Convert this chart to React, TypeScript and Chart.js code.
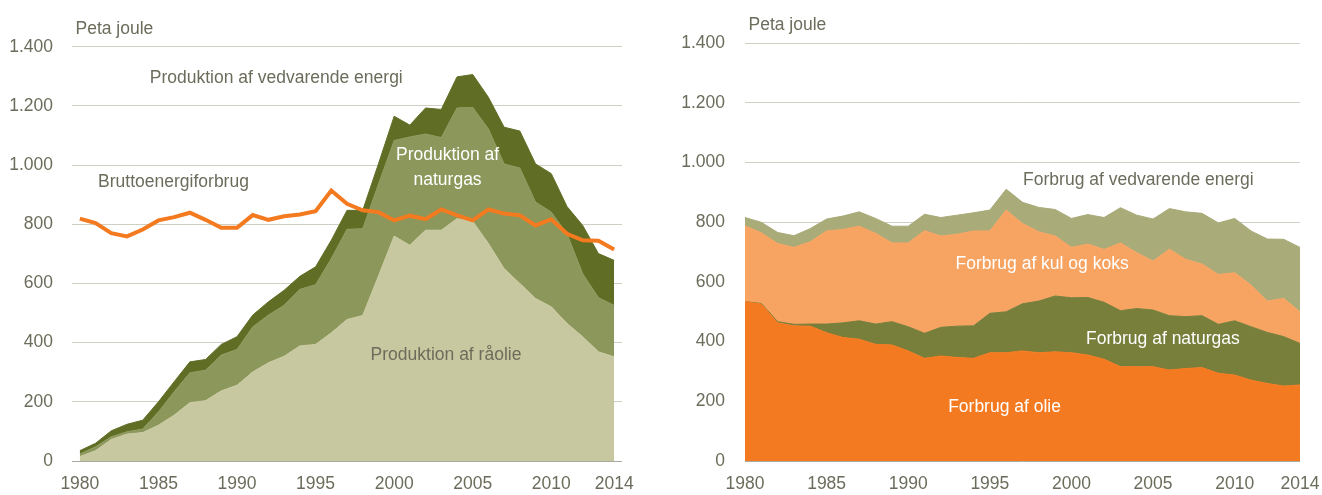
import React, { useEffect, useRef } from "react";
import { Chart, registerables } from "chart.js";

Chart.register(...registerables);

// ---------- DATA ----------
const years = [
  "1980", "1981", "1982", "1983", "1984", "1985", "1986", "1987", "1988", "1989",
  "1990", "1991", "1992", "1993", "1994", "1995", "1996", "1997", "1998", "1999",
  "2000", "2001", "2002", "2003", "2004", "2005", "2006", "2007", "2008", "2009",
  "2010", "2011", "2012", "2013", "2014",
];
const shownYears = ["1980", "1985", "1990", "1995", "2000", "2005", "2010", "2014"];
const yTicks = [0, 200, 400, 600, 800, 1000, 1200, 1400];

// Left chart: production (stacked) + gross energy consumption line
const prodRaaolie = [
  15, 35, 73, 91, 96, 121, 155, 197, 204, 237, 256, 301, 332, 354, 389, 394, 433, 478,
  492, 625, 760, 729, 780, 780, 819, 810, 735, 650, 600, 549, 521, 465, 420, 369, 352,
];
const prodNaturgas = [
  9, 13, 9, 8, 12, 45, 79, 101, 103, 121, 121, 152, 161, 172, 191, 202, 251, 305, 293,
  310, 323, 366, 325, 313, 374, 385, 387, 354, 390, 326, 320, 303, 213, 183, 174,
];
const prodVedvarende = [
  11, 12, 20, 25, 30, 34, 34, 37, 36, 36, 43, 40, 45, 51, 44, 60, 62, 64, 62, 69, 82,
  40, 88, 95, 105, 111, 107, 124, 125, 129, 130, 92, 163, 149, 152,
];
const bruttoenergiforbrug = [
  819, 804, 770, 759, 782, 813, 824, 839, 815, 788, 788, 831, 815, 827, 833, 844, 914,
  869, 847, 841, 813, 829, 817, 850, 830, 813, 850, 836, 830, 796, 817, 768, 746, 744, 715,
];

// Right chart: consumption (stacked)
const forbrugOlie = [
  534, 526, 463, 453, 452, 430, 414, 408, 391, 389, 369, 344, 352, 347, 344, 363, 363,
  369, 363, 366, 363, 355, 341, 316, 316, 316, 305, 310, 313, 294, 288, 271, 260, 251, 255,
];
const forbrugNaturgas = [
  0, 2, 4, 5, 7, 29, 49, 62, 68, 78, 81, 84, 96, 105, 109, 132, 137, 158, 173, 187, 184,
  193, 191, 188, 195, 190, 182, 174, 174, 164, 182, 179, 171, 166, 139,
];
const forbrugKul = [
  254, 237, 262, 258, 276, 312, 313, 317, 304, 264, 281, 344, 306, 308, 318, 276, 341,
  269, 232, 201, 169, 179, 177, 227, 187, 164, 223, 192, 173, 167, 161, 140, 105, 128, 106,
];
const forbrugVedvarende = [
  28, 35, 37, 39, 44, 40, 45, 48, 50, 56, 56, 55, 62, 64, 61, 70, 70, 71, 82, 89, 97,
  99, 107, 118, 126, 141, 136, 159, 170, 173, 182, 181, 208, 198, 216,
];

// ---------- STYLE ----------
const FONT = '"Liberation Sans", Arial, sans-serif';
const FSIZE = 17.5;
const GRAY = "#6c6c5c";
const GRID = "#cfcfc3";
const BASE = "#a9a9a0";

type Note = { text: string; i: number; v: number; color: string };

const leftNotes: Note[] = [
  { text: "Produktion af vedvarende energi", i: 12.5, v: 1292, color: GRAY },
  { text: "Bruttoenergiforbrug", i: 5.96, v: 941, color: GRAY },
  { text: "Produktion af", i: 23.4, v: 1032, color: "#ffffff" },
  { text: "naturgas", i: 23.4, v: 948, color: "#ffffff" },
  { text: "Produktion af råolie", i: 23.3, v: 358, color: GRAY },
];
const rightNotes: Note[] = [
  { text: "Forbrug af vedvarende energi", i: 24.1, v: 941, color: GRAY },
  { text: "Forbrug af kul og koks", i: 18.2, v: 660, color: "#ffffff" },
  { text: "Forbrug af naturgas", i: 25.6, v: 409, color: "#ffffff" },
  { text: "Forbrug af olie", i: 15.9, v: 181, color: "#ffffff" },
];

function notesPlugin(notes: Note[]) {
  return {
    id: "notes",
    afterDatasetsDraw(chart: any) {
      const { ctx, chartArea, scales } = chart;
      ctx.save();
      ctx.font = `${FSIZE}px ${FONT}`;
      ctx.textBaseline = "middle";
      ctx.textAlign = "left";
      ctx.fillStyle = GRAY;
      ctx.fillText("Peta joule", chartArea.left + 3.5, chartArea.top - 18);
      ctx.textAlign = "center";
      for (const n of notes) {
        ctx.fillStyle = n.color;
        ctx.fillText(n.text, scales.x.getPixelForValue(n.i), scales.y.getPixelForValue(n.v));
      }
      ctx.restore();
    },
  };
}

function fmt(v: number) {
  return String(v).replace(/\B(?=(\d{3})+(?!\d))/g, ".");
}

function makeOptions(yWidth: number, top: number, right: number, offset: boolean) {
  return {
    responsive: false,
    animation: false as const,
    layout: { padding: { left: 0, right, top, bottom: 0 } },
    plugins: { legend: { display: false }, tooltip: { enabled: false } },
    elements: { point: { radius: 0 } },
    scales: {
      x: {
        type: "category" as const,
        offset,
        grid: { display: false, drawTicks: false },
        border: { display: false },
        ticks: {
          autoSkip: false,
          maxRotation: 0,
          padding: 13,
          color: GRAY,
          font: { family: FONT, size: FSIZE },
          callback: (_v: any, idx: number) =>
            shownYears.includes(years[idx]) ? years[idx] : "",
        },
        afterFit: (s: any) => {
          s.height = 34;
          s.paddingLeft = 0;
          s.paddingRight = 0;
        },
      },
      y: {
        stacked: true,
        min: yTicks[0],
        max: yTicks[yTicks.length - 1],
        afterBuildTicks: (s: any) => {
          s.ticks = yTicks.map((v) => ({ value: v }));
        },
        grid: {
          drawTicks: false,
          lineWidth: 1,
          color: (c: any) => (c.tick && c.tick.value === 0 ? BASE : GRID),
        },
        border: { display: false },
        ticks: {
          padding: yWidth === 72 ? 19 : 20,
          color: GRAY,
          font: { family: FONT, size: FSIZE },
          callback: (v: any) => fmt(Number(v)),
        },
        afterFit: (s: any) => {
          s.width = yWidth;
        },
      },
    },
  };
}

function area(label: string, data: number[], color: string, fill: any) {
  return {
    label,
    data,
    backgroundColor: color,
    borderColor: color,
    borderWidth: 1,
    pointRadius: 0,
    fill,
    stack: "areas",
    tension: 0,
  };
}

function LeftChart() {
  const ref = useRef<HTMLCanvasElement>(null);
  useEffect(() => {
    const chart = new Chart(ref.current!, {
      type: "line",
      data: {
        labels: years,
        datasets: [
          {
            label: "Bruttoenergiforbrug",
            data: bruttoenergiforbrug,
            borderColor: "#f47a20",
            backgroundColor: "#f47a20",
            borderWidth: 4,
            pointRadius: 0,
            fill: false,
            stack: "line",
          } as any,
          area("Produktion af råolie", prodRaaolie, "#c8c8a0", "origin"),
          area("Produktion af naturgas", prodNaturgas, "#8c985b", "-1"),
          area("Produktion af vedvarende energi", prodVedvarende, "#606e25", "-1"),
        ],
      },
      options: makeOptions(72, 46.7, 38, true) as any,
      plugins: [notesPlugin(leftNotes)],
    });
    return () => chart.destroy();
  }, []);
  return <canvas ref={ref} width={660} height={495} />;
}

function RightChart() {
  const ref = useRef<HTMLCanvasElement>(null);
  useEffect(() => {
    const chart = new Chart(ref.current!, {
      type: "line",
      data: {
        labels: years,
        datasets: [
          area("Forbrug af olie", forbrugOlie, "#f47a21", "origin"),
          area("Forbrug af naturgas", forbrugNaturgas, "#777f3b", "-1"),
          area("Forbrug af kul og koks", forbrugKul, "#f7a462", "-1"),
          area("Forbrug af vedvarende energi", forbrugVedvarende, "#a9ab79", "-1"),
        ],
      },
      options: makeOptions(85, 43.3, 22, false) as any,
      plugins: [notesPlugin(rightNotes)],
    });
    return () => chart.destroy();
  }, []);
  return <canvas ref={ref} width={662} height={495} />;
}

export default function App() {
  return (
    <div
      style={{
        position: "fixed",
        left: 0,
        top: 0,
        width: 1322,
        height: 495,
        background: "#ffffff",
      }}
    >
      <div style={{ position: "absolute", left: 0, top: 0, width: 660, height: 495 }}>
        <LeftChart />
      </div>
      <div style={{ position: "absolute", left: 660, top: 0, width: 662, height: 495 }}>
        <RightChart />
      </div>
    </div>
  );
}
